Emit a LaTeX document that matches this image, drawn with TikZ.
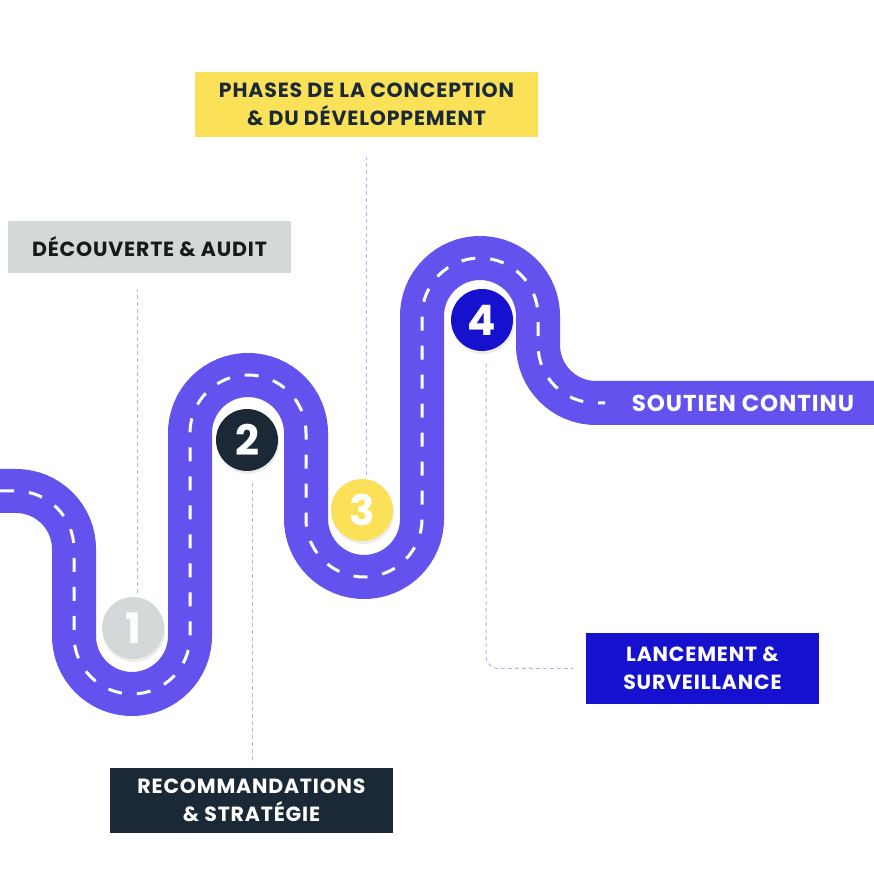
\documentclass[tikz,border=0pt]{standalone}
\usepackage{fontspec}
\setmainfont{Poppins}[LetterSpace=4]
\usepackage{tikz}
\usetikzlibrary{shadows}
\definecolor{roadPurple}{RGB}{99, 82, 238}
\definecolor{stepGrey}{RGB}{211, 217, 216}
\definecolor{stepNavy}{RGB}{27, 40, 54}
\definecolor{stepYellow}{RGB}{251, 225, 88}
\definecolor{stepBlue}{RGB}{21, 17, 207}
\definecolor{linkLilac}{RGB}{185, 176, 243}

\begin{document}
\begin{tikzpicture}[x=1pt, y=1pt,
    box/.style={inner sep=0pt, align=center, font=\fontsize{20.5}{28}\selectfont\bfseries},
    stop/.style={circle, minimum size=62pt, inner sep=0pt, text=white,
        font=\fontsize{42}{42}\selectfont\bfseries,
        drop shadow={opacity=0.15, shadow xshift=1pt, shadow yshift=-3pt}},
    link/.style={draw=linkLilac, line width=1pt, dash pattern=on 4pt off 3pt}]
        \useasboundingbox (0, 0) rectangle (874, 874);

        % road
        \draw[roadPurple, line width=44pt]
            (0, 383) -- (16, 383) arc[start angle=90, end angle=0, radius=58pt]
            -- (74, 238) arc[start angle=180, end angle=360, radius=58pt]
            -- (190, 441) arc[start angle=180, end angle=0, radius=58pt]
            -- (306, 355) arc[start angle=180, end angle=360, radius=58pt]
            -- (422, 558) arc[start angle=180, end angle=0, radius=58pt]
            -- (538, 529) arc[start angle=180, end angle=270, radius=58pt]
            -- (874, 471);
        \draw[white, line width=3pt, dash pattern=on 14pt off 15pt]
            (0, 383) -- (16, 383) arc[start angle=90, end angle=0, radius=58pt]
            -- (74, 238) arc[start angle=180, end angle=360, radius=58pt]
            -- (190, 441) arc[start angle=180, end angle=0, radius=58pt]
            -- (306, 355) arc[start angle=180, end angle=360, radius=58pt]
            -- (422, 558) arc[start angle=180, end angle=0, radius=58pt]
            -- (538, 529) arc[start angle=180, end angle=270, radius=58pt]
            -- (605, 471);

        % stops
        \node[stop, fill=stepGrey, text=white!96!stepGrey] (s1) at (133, 246) {1};
        \node[stop, fill=stepNavy] (s2) at (247, 434) {2};
        \node[stop, fill=stepYellow] (s3) at (362, 364) {3};
        \node[stop, fill=stepBlue] (s4) at (482, 554) {4};

        % labels
        \node[box, fill=stepGrey, text=black!90, minimum width=283pt, minimum height=52pt]
            (audit) at (149.5, 627) {DÉCOUVERTE \& AUDIT};
        \node[box, fill=stepYellow, text=stepNavy, minimum width=343pt, minimum height=65pt]
            (design) at (366.5, 769.5) {PHASES DE LA CONCEPTION\\\& DU DÉVELOPPEMENT};
        \node[box, fill=stepNavy, text=white, minimum width=283pt, minimum height=65pt]
            (strategy) at (251.5, 73.5) {RECOMMANDATIONS\\\& STRATÉGIE};
        \node[box, fill=stepBlue, text=white, minimum width=233pt, minimum height=71pt]
            (launch) at (702.5, 205.5) {LANCEMENT \&\\SURVEILLANCE};
        \node[inner sep=0pt, text=white, font=\fontsize{23}{26}\selectfont\bfseries]
            (support) at (743, 471) {SOUTIEN CONTINU};

        % links
        \draw[link, shorten >=17pt] ([xshift=4pt, yshift=4pt]s1.north) -- ([xshift=4pt]s1.north |- audit.south);
        \draw[link] ([xshift=5pt, yshift=-12pt]s2.south) -- ([xshift=5pt, yshift=5pt]s2.south |- strategy.north);
        \draw[link] ([xshift=4pt, yshift=4pt]s3.north) -- ([xshift=4pt, yshift=-20pt]s3.north |- design.south);
        \draw[link, rounded corners=12pt] ([xshift=4pt, yshift=-12pt]s4.south)
            |- ([xshift=-13pt]launch.west);
\end{tikzpicture}
\end{document}
